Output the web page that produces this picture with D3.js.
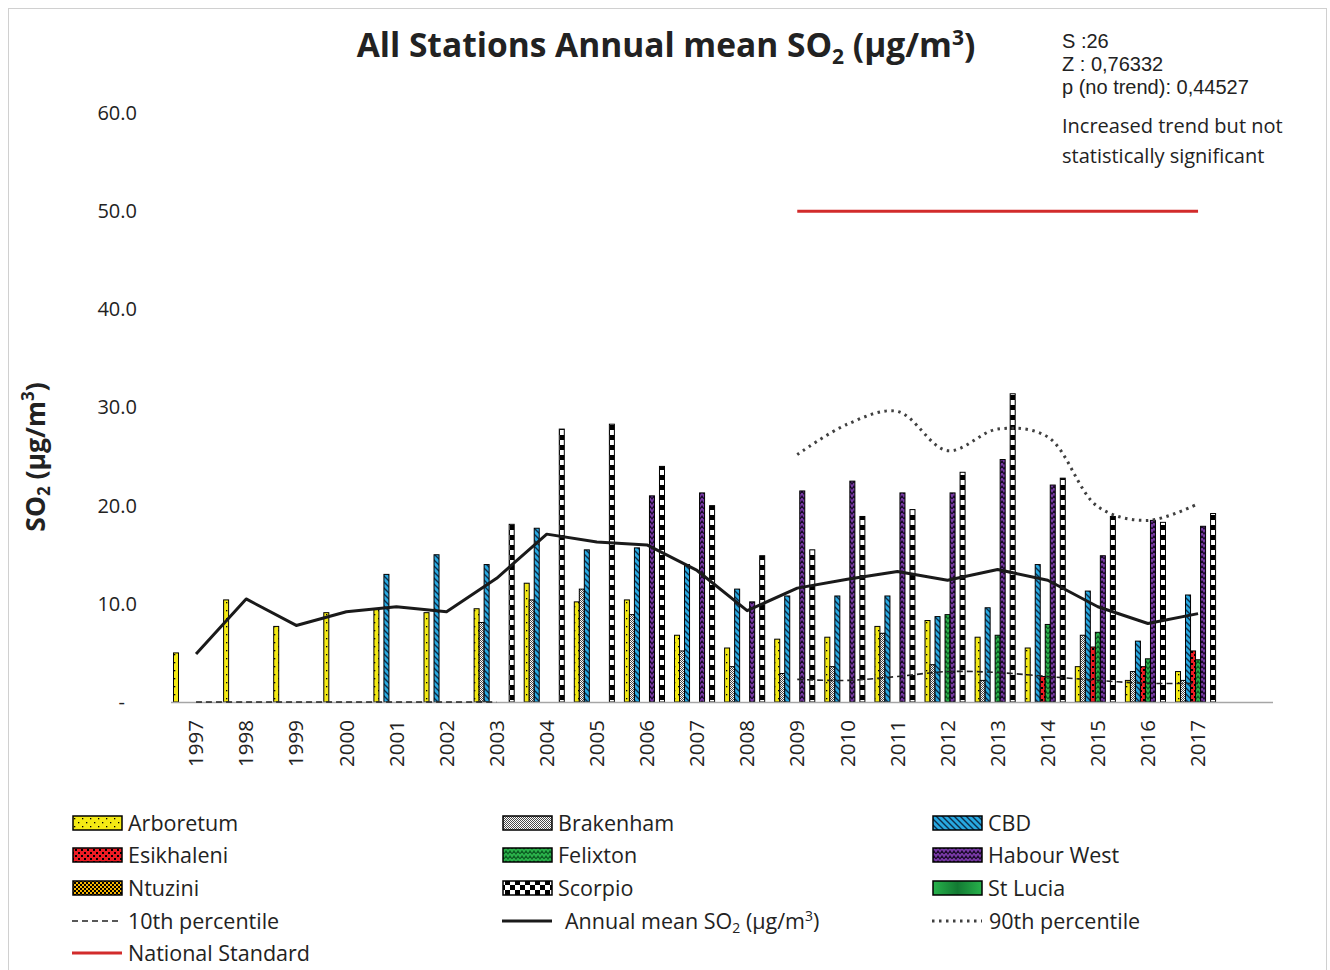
<!DOCTYPE html>
<html><head><meta charset="utf-8">
<script src="https://cdn.jsdelivr.net/npm/d3@7"></script>
<style>
body{margin:0;background:#fff}
svg{display:block}
text{font-family:"Open Sans","Noto Sans",sans-serif;fill:#222}
</style>
</head><body>
<svg id="c" width="1330" height="970"></svg>
<script>
// ---------- data ----------
const years = [1997,1998,1999,2000,2001,2002,2003,2004,2005,2006,2007,2008,2009,2010,2011,2012,2013,2014,2015,2016,2017];
const stations = ["Arboretum","Brakenham","CBD","Esikhaleni","Felixton","Habour West","Ntuzini","Scorpio","St Lucia"];
const arboretum  = [5.0,10.4,7.7,9.1,9.5,9.1,9.5,12.1,10.2,10.4,6.8,5.5,6.4,6.6,7.7,8.3,6.6,5.5,3.6,2.2,3.1];
const brakenham  = [null,null,null,null,null,null,8.1,10.4,11.5,8.9,5.2,3.6,2.9,3.6,7.0,3.8,2.2,null,6.8,3.1,2.2];
const cbd        = [null,null,null,null,13.0,15.0,14.0,17.7,15.5,15.7,14.0,11.5,10.8,10.8,10.8,8.7,9.6,14.0,11.3,6.2,10.9];
const esikhaleni = [null,null,null,null,null,null,null,null,null,null,null,null,null,null,null,null,null,2.6,5.6,3.6,5.2];
const felixton   = [null,null,null,null,null,null,null,null,null,null,null,null,null,null,null,8.9,6.8,7.9,7.1,4.4,4.3];
const habourWest = [null,null,null,null,null,null,null,null,null,21.0,21.3,10.2,21.5,22.5,21.3,21.3,24.7,22.1,14.9,18.5,17.9];
const ntuzini    = [null,null,null,null,null,null,null,null,null,null,null,null,null,null,null,null,null,null,null,null,null];
const scorpio    = [null,null,null,null,null,null,18.1,27.8,28.3,24.0,20.0,14.9,15.5,18.9,19.6,23.4,31.4,22.8,18.9,18.3,19.2];
const stLucia    = [null,null,null,null,null,null,null,null,null,null,null,null,null,null,null,null,null,null,null,null,null];
const annualMean = [4.9,10.5,7.8,9.2,9.7,9.2,12.6,17.1,16.3,16.0,13.4,9.3,11.6,12.5,13.3,12.4,13.5,12.4,9.7,8.0,9.0];
const pct10      = [0,0,0,0,0,0,0,null,null,null,null,null,2.3,2.2,2.6,3.1,3.0,2.6,2.2,1.9,1.9];
const pct90      = [null,null,null,null,null,null,null,null,null,null,null,null,25.2,28.3,29.6,25.6,27.8,27.0,19.9,18.5,20.2];
const nationalStd= [null,null,null,null,null,null,null,null,null,null,null,null,50,50,50,50,50,50,50,50,50];
const yTicks = [0,10,20,30,40,50,60];
const stats = ["S :26","Z : 0,76332","p (no trend): 0,44527"];
const note = ["Increased trend but not","statistically significant"];

const seriesVals = [arboretum,brakenham,cbd,esikhaleni,felixton,habourWest,ntuzini,scorpio,stLucia];
const patIds = ["p-arb","p-brak","p-cbd","p-esik","p-felix","p-hw","p-ntuz","p-scor","p-stl"];

// ---------- setup ----------
const svg = d3.select("#c");
const defs = svg.append("defs");

function pat(id,w,h,bg){
  const p = defs.append("pattern").attr("id",id).attr("patternUnits","userSpaceOnUse").attr("width",w).attr("height",h);
  p.append("rect").attr("width",w).attr("height",h).attr("fill",bg);
  return p;
}
let p = pat("p-arb",8,8,"#f4ea14");
p.append("rect").attr("x",2).attr("y",2).attr("width",1.3).attr("height",1.3).attr("fill","#000");
p.append("rect").attr("x",6).attr("y",6).attr("width",1.3).attr("height",1.3).attr("fill","#000");
p = pat("p-brak",2,2,"#ffffff");
p.append("rect").attr("x",0).attr("y",0).attr("width",1).attr("height",1).attr("fill","#4a4a4a");
p.append("rect").attr("x",1).attr("y",1).attr("width",1).attr("height",1).attr("fill","#4a4a4a");
p = pat("p-cbd",6,6,"#27a9e1");
p.append("path").attr("d","M0,0L6,6M-1,5L1,7M5,-1L7,1").attr("stroke","#0d2d4a").attr("stroke-width",1.4);
p = pat("p-esik",6,6,"#ee1c24");
p.append("rect").attr("x",0).attr("y",0).attr("width",2).attr("height",2).attr("fill","#000");
p.append("rect").attr("x",3).attr("y",3).attr("width",2).attr("height",2).attr("fill","#000");
p = pat("p-felix",8,5,"#2bb34b");
p.append("path").attr("d","M0,4L2,1L4,4L6,1L8,4").attr("stroke","#0b5d22").attr("stroke-width",1.2).attr("fill","none");
p = pat("p-hw",8,5,"#7a3aa8");
p.append("path").attr("d","M0,4L2,1L4,4L6,1L8,4").attr("stroke","#1a0a2a").attr("stroke-width",1.2).attr("fill","none");
p = pat("p-ntuz",4,4,"#f7b500");
p.append("rect").attr("x",0).attr("y",0).attr("width",2).attr("height",2).attr("fill","#000");
p.append("rect").attr("x",2).attr("y",2).attr("width",2).attr("height",2).attr("fill","#000");
p = pat("p-scor",10,10,"#000");
p.append("rect").attr("x",0).attr("y",0).attr("width",5).attr("height",5).attr("fill","#fff");
p.append("rect").attr("x",5).attr("y",5).attr("width",5).attr("height",5).attr("fill","#fff");
const g = defs.append("linearGradient").attr("id","p-stl").attr("x1","0").attr("x2","1").attr("y1","0").attr("y2","0");
g.append("stop").attr("offset","0%").attr("stop-color","#27b24b");
g.append("stop").attr("offset","50%").attr("stop-color","#137a33");
g.append("stop").attr("offset","100%").attr("stop-color","#27b24b");

// border
svg.append("rect").attr("x",8.5).attr("y",8.5).attr("width",1318).attr("height",975)
  .attr("fill","none").attr("stroke","#d0d0d0").attr("stroke-width",1);

// scales
const step = 50.1, left = 171;
const x = d3.scaleBand().domain(years).range([left, left + step*years.length]).padding(0);
const xs = d3.scaleBand().domain(stations).range([0, x.bandwidth()]).paddingInner(0).paddingOuter(0.5);
const y = d3.scaleLinear().domain([0,60]).range([702,113]);

// y axis
const ya = svg.append("g").attr("transform",`translate(${left},0)`)
  .call(d3.axisLeft(y).tickValues(yTicks).tickSize(0).tickPadding(34)
    .tickFormat(d => d===0 ? "-" : d.toFixed(1)));
ya.select(".domain").remove();
ya.selectAll("text").style("font-family",'"Open Sans",sans-serif').style("font-size","20px").attr("fill","#333");
ya.selectAll(".tick").filter(d=>d===0).select("text").attr("dx",-12);

// bars
const barsG = svg.append("g");
stations.forEach((s,si)=>{
  const vals = seriesVals[si];
  barsG.selectAll(null).data(years.map((yr,i)=>({yr,v:vals[i]})).filter(d=>d.v!=null))
    .enter().append("rect")
    .attr("x", d => x(d.yr) + xs(s))
    .attr("y", d => y(d.v))
    .attr("width", xs.bandwidth())
    .attr("height", d => y(0) - y(d.v))
    .attr("fill", `url(#${patIds[si]})`)
    .attr("stroke","#000").attr("stroke-width",1);
});

// x axis
const xa = svg.append("g").attr("transform","translate(0,702)")
  .call(d3.axisBottom(x).tickSize(0).tickPadding(0));
xa.select(".domain").attr("d",`M${left},0.5H1273`).attr("stroke","#a6a6a6").attr("stroke-width",1.5);
xa.selectAll("text")
  .style("font-family",'"Open Sans",sans-serif').style("font-size","20.5px").attr("fill","#333")
  .attr("transform","rotate(-90)").attr("text-anchor","end")
  .attr("x",-18).attr("y",0).attr("dy","0.35em");

// lines
const cx = (i) => x(years[i]) + x.bandwidth()/2;
const mk = (curve) => d3.line().defined(d=>d!=null).x((d,i)=>cx(i)).y(d=>y(d)).curve(curve);
const lg = svg.append("g").attr("fill","none");
lg.append("path").attr("d", mk(d3.curveLinear)(nationalStd)).attr("stroke","#d22b2b").attr("stroke-width",3);
lg.append("path").attr("d", mk(d3.curveCatmullRom.alpha(0.5))(pct10)).attr("stroke","#222").attr("stroke-width",1.6).attr("stroke-dasharray","6,4");
lg.append("path").attr("d", mk(d3.curveCatmullRom.alpha(0.5))(pct90)).attr("stroke","#404040").attr("stroke-width",3).attr("stroke-dasharray","2.5,4.5");
lg.append("path").attr("d", mk(d3.curveLinear)(annualMean)).attr("stroke","#1a1a1a").attr("stroke-width",3).attr("stroke-linejoin","round");

// title
const t = svg.append("text").attr("x",666).attr("y",57).attr("text-anchor","middle")
  .style("font-size","33.5px").style("font-weight","700").attr("fill","#000");
t.append("tspan").text("All Stations Annual mean SO");
t.append("tspan").text("2").style("font-size","21px").attr("dy",7);
t.append("tspan").text(" (µg/m").attr("dy",-7);
t.append("tspan").text("3").style("font-size","21px").attr("dy",-12);
t.append("tspan").text(")").attr("dy",12);

// y title
const yt = svg.append("text").attr("transform","translate(45,457) rotate(-90)").attr("text-anchor","middle")
  .style("font-size","26.5px").style("font-weight","700").attr("fill","#000");
yt.append("tspan").text("SO");
yt.append("tspan").text("2").style("font-size","17px").attr("dy",5);
yt.append("tspan").text(" (µg/m").attr("dy",-5);
yt.append("tspan").text("3").style("font-size","17px").attr("dy",-11);
yt.append("tspan").text(")").attr("dy",11);

// stats annotation (tight line spacing, compact font)
svg.append("g").selectAll("text").data(stats).enter().append("text")
  .attr("x",1062).attr("y",(d,i)=>48+i*23).text(d=>d)
  .style("font-family",'"Liberation Sans",Arial,sans-serif')
  .style("font-size","20px").attr("fill","#333");
svg.append("g").selectAll("text").data(note).enter().append("text")
  .attr("x",1062).attr("y",(d,i)=>133+i*30).text(d=>d)
  .style("font-size","20px").attr("fill","#333");

// legend
const cols = [72,502,932], rows = [823,855,888,921,953];
const legItems = stations.map((s,i)=>({type:"bar",label:s,fill:`url(#${patIds[i]})`}))
  .concat([
    {type:"line",label:"10th percentile",stroke:"#222",w:1.6,dash:"6,4",off:56},
    {type:"line",label:"Annual mean SO",sub:true,stroke:"#1a1a1a",w:3,dash:null,off:63},
    {type:"line",label:"90th percentile",stroke:"#404040",w:3,dash:"2.5,4.5",off:57},
    {type:"line",label:"National Standard",stroke:"#d22b2b",w:3,dash:null,off:56}
  ]);
const leg = svg.append("g");
legItems.forEach((it,i)=>{
  const cx0 = cols[i%3], cy0 = rows[Math.floor(i/3)];
  if(it.type==="bar"){
    leg.append("rect").attr("x",cx0+1).attr("y",cy0-7).attr("width",49).attr("height",14)
      .attr("fill",it.fill).attr("stroke","#000").attr("stroke-width",1.5);
  } else {
    leg.append("line").attr("x1",cx0).attr("x2",cx0+50).attr("y1",cy0).attr("y2",cy0)
      .attr("stroke",it.stroke).attr("stroke-width",it.w).attr("stroke-dasharray",it.dash);
  }
  const tx = leg.append("text").attr("x",cx0+(it.off||56)).attr("y",cy0).attr("dy","0.35em")
    .style("font-size","21.5px").attr("fill","#333");
  tx.append("tspan").text(it.label);
  if(it.sub){
    tx.append("tspan").text("2").style("font-size","14px").attr("dy",4);
    tx.append("tspan").text(" (µg/m").attr("dy",-4);
    tx.append("tspan").text("3").style("font-size","14px").attr("dy",-8);
    tx.append("tspan").text(")").attr("dy",8);
  }
});
</script>
</body></html>
